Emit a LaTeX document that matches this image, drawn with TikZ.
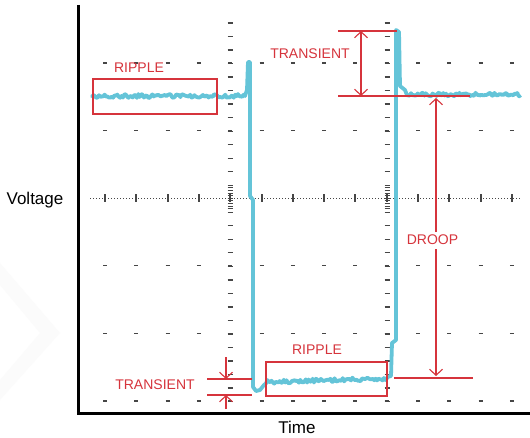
\documentclass[tikz,border=0pt]{standalone}
\usepackage{fontspec}
\setmainfont{Liberation Sans}
\usetikzlibrary{arrows.meta}
\definecolor{annot}{RGB}{214,52,60}
\definecolor{tracec}{RGB}{100,196,216}
\definecolor{gridc}{RGB}{70,70,70}
\begin{document}
\begin{tikzpicture}[x=1pt,y=-1pt,
  trace/.style={draw=tracec,line width=3.8pt,line join=round,line cap=round},
  ann/.style={draw=annot,line width=1.2pt},
  annarrow/.style={ann,-{Straight Barb[length=6pt,width=13pt,line width=1.1pt]}},
  lab/.style={text=annot,font=\fontsize{14}{14}\selectfont,inner sep=0pt,anchor=base},
  axlab/.style={text=black,font=\fontsize{17}{18}\selectfont,inner sep=0pt,anchor=base},
  gdash/.style={draw=gridc,line width=1.3pt},
]
\useasboundingbox (0,0) rectangle (530,438);
\fill[white] (0,0) rectangle (530,438);
% faint watermark chevron
\fill[black!1.5] (0,263) -- (60,333) -- (0,400) -- (0,380) -- (40,333) -- (0,285) -- cycle;

% grid rows
\foreach \r in {63,130.6,265.8,333.4,401}{
  \foreach \k in {0,...,13}{
    \draw[gdash] ({105+31.3*\k-2},\r) -- ++(4,0);
  }
}
% tick columns
\foreach \c in {230,387}{
  \foreach \k in {0,...,28}{
    \draw[gdash] (\c-2.5,{23+13.52*\k}) -- ++(5,0);
  }
  \foreach \d in {-4,...,4}{
    \draw[gridc,line width=0.8pt] (\c-2.5,{198.2+2.6*\d}) -- ++(5,0);
  }
}
% centre dotted line with markers
\draw[gridc,dotted,line width=1pt] (90,198.2) -- (521,198.2);
\foreach \k in {0,...,13}{
  \draw[gridc,line width=2pt] ({105+31.3*\k},194.5) -- ++(0,7.5);
}

% trace
\pgfmathsetseed{7}
\draw[trace] plot[domain=92:245,samples=110] (\x,{96+1.9*rand})
  -- (247,90) -- (248,62) -- (250,62) -- (250,196) -- (253,200) -- (253,387)
  -- (256,391) -- (260,390) -- (264,385)
  -- plot[domain=266:388,samples=90] (\x,{382-3.5*(\x-266)/122+1.9*rand})
  -- (391,376) -- (392,343) -- (396,340) -- (396,30) -- (399,32) -- (400,86) -- (405,90)
  -- plot[domain=407:520,samples=85] (\x,{94.5+1.9*rand});

% axes
\draw[black,line width=3pt,line join=miter] (78,5) -- (78,413) -- (530,413);
\node[axlab] (vlab) at (35,205) {Voltage};
\node[axlab] (tlab) at (297,433) {Time};

% top ripple
\draw[ann] (93,79) rectangle (217,114);
\node[lab] (rip1) at (139,73) {RIPPLE};

% top transient
\node[lab] (tr1) at (310,59) {TRANSIENT};
\coordinate (tA) at (361,31);
\coordinate (tB) at (361,96);
\draw[ann] (338,31) -- (397,31);
\draw[ann] (338,96) -- (470,96);
\draw[ann,{Straight Barb[length=6pt,width=13pt,line width=1.1pt]}-{Straight Barb[length=6pt,width=13pt,line width=1.1pt]}] (tA) -- (tB);

% droop
\node[lab] (droop) at (432.5,245) {DROOP};
\coordinate (dTop) at (436,98);
\coordinate (dBot) at (436,376);
\draw[annarrow] (droop.north -| dTop) ++(0,-3) -- (dTop);
\draw[annarrow] (droop.south -| dBot) ++(0,4) -- (dBot);
\draw[ann] (394,378) -- (473,378);

% bottom ripple
\draw[ann] (266,362) rectangle (387,396);
\node[lab] (rip2) at (317,354) {RIPPLE};

% bottom transient
\node[lab] (tr2) at (155,389) {TRANSIENT};
\coordinate (bA) at (226,379);
\coordinate (bB) at (226,395);
\draw[ann] (207,379) -- (252,379);
\draw[ann] (207,395) -- (252,395);
\draw[annarrow] (226,357) -- (bA);
\draw[annarrow] (226,409) -- (bB);
\end{tikzpicture}
\end{document}
